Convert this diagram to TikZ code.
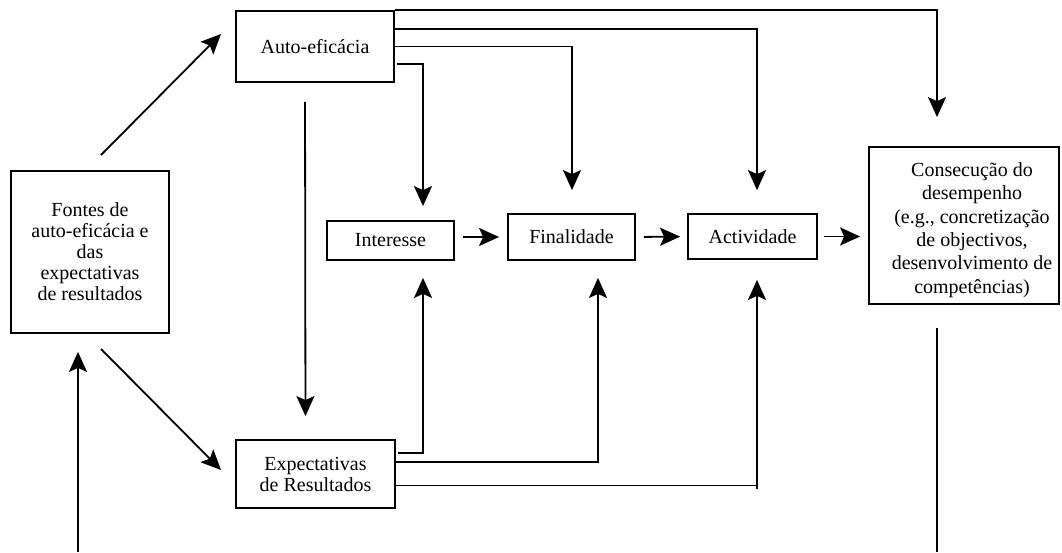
\documentclass[tikz,border=0pt]{standalone}
\usepackage{fontspec}
\setmainfont{Liberation Serif}
\usetikzlibrary{arrows.meta}
\begin{document}
\begin{tikzpicture}[x=1pt,y=-1pt,
  line width=1.8pt,
  box/.style={draw, rectangle, inner sep=0pt, align=center,
    font=\fontsize{20}{21}\selectfont},
  plain/.style={inner sep=0pt, align=center, font=\fontsize{20}{23.3}\selectfont},
  arr/.style={-{Stealth[length=20pt,width=18pt,inset=4pt]}}]
\useasboundingbox (0,0) rectangle (1062,552);

% boxes
\node[box, minimum width=158, minimum height=162] (fontes) at (90,252)
  {Fontes de\\auto-eficácia e\\das\\expectativas\\de resultados};
\node[box, minimum width=158, minimum height=71] (auto) at (315,46.5) {Auto-eficácia};
\node[box, minimum width=159, minimum height=68] (expect) at (315.5,474)
  {Expectativas\\de Resultados};
\node[box, minimum width=127, minimum height=39] (inter) at (390.5,240.5) {Interesse};
\node[box, minimum width=127, minimum height=46] (final) at (571.5,237) {Finalidade};
\node[box, minimum width=129, minimum height=45] (activ) at (752.5,236.5) {Actividade};
\node[box, minimum width=190, minimum height=157] (cons) at (964,225.5) {};
\node[plain] (constext) at (972,230)
  {Consecução do\\desempenho\\(e.g., concretização\\de objectivos,\\desenvolvimento de\\competências)};

% free ends of the diagonal and feedback connectors
\coordinate (d1s) at (101,155);
\coordinate (d1e) at (221,34);
\coordinate (d2s) at (101,349);
\coordinate (d2e) at (221,470);
\coordinate (fbr) at (937,552);
\coordinate (fbl) at (78,552);
\coordinate (tick) at (757,489);

% sources to self-efficacy and outcome expectations
\draw[arr] (d1s) -- (d1e);
\draw[arr] (d2s) -- (d2e);

% self-efficacy to outcome expectations
\draw[arr, shorten <=19pt, shorten >=23pt] ([xshift=-10pt]auto.south) -- ([xshift=-10pt]expect.north);

% self-efficacy to the chain and to performance
\draw[arr, shorten >=29pt] (auto.north east) -| ([xshift=-27pt]cons.north);
\draw[arr, shorten >=23pt] ([yshift=17.5pt]auto.east) -| ([xshift=4.5pt]activ.north);
\draw[arr, shorten >=23pt] (auto.east) -| ([xshift=0.5pt]final.north);
\draw[arr, shorten <=2pt, shorten >=14pt] ([yshift=-17.5pt]auto.east) -| ([xshift=32.5pt]inter.north);

% outcome expectations to the chain
\draw[arr, shorten <=2pt, shorten >=17pt] ([yshift=21pt]expect.east) -| ([xshift=32.5pt]inter.south);
\draw[arr, shorten >=17pt] ([yshift=12pt]expect.east) -| ([xshift=26.5pt]final.south);
\draw ([yshift=-11.5pt]expect.east) -- ([yshift=-11.5pt]expect.east -| tick);
\draw[arr, shorten >=20pt] (tick) -- ([xshift=4.5pt]activ.south);

% interest -> goals -> activity -> performance
\draw[arr, shorten <=8pt, shorten >=8pt] (inter.east |- final.west) -- (final.west);
\draw[arr, shorten <=8pt, shorten >=7pt] (final.east) -- (activ.west);
\draw[arr, shorten <=6pt, shorten >=8pt] (activ.east) -- (activ.east -| cons.west);

% feedback from performance back to the sources
\draw[shorten <=23pt] ([xshift=-27pt]cons.south) -- (fbr);
\draw[arr, shorten >=18pt] (fbl) -- (fontes.south -| fbl);
\end{tikzpicture}
\end{document}
